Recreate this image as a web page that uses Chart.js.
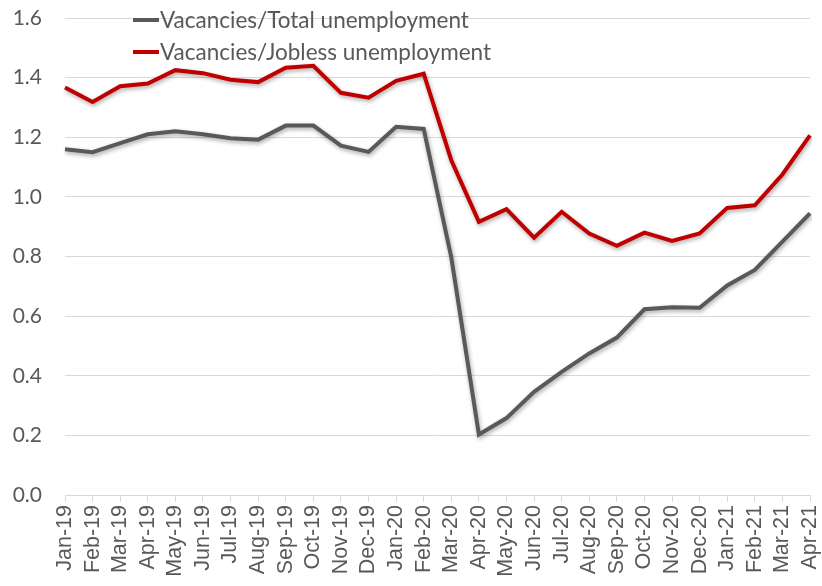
<!DOCTYPE html>
<html>
<head>
<meta charset="utf-8">
<script src="https://cdn.jsdelivr.net/npm/chart.js@4"></script>
<style>
  html, body { margin: 0; padding: 0; background: #fff; }
  #wrap { width: 822px; height: 586px; }
</style>
</head>
<body>
<div id="wrap"><canvas id="myChart" width="822" height="586"></canvas></div>
<script>
"use strict";

const months = [
  "Jan-19", "Feb-19", "Mar-19", "Apr-19", "May-19", "Jun-19", "Jul-19",
  "Aug-19", "Sep-19", "Oct-19", "Nov-19", "Dec-19", "Jan-20", "Feb-20",
  "Mar-20", "Apr-20", "May-20", "Jun-20", "Jul-20", "Aug-20", "Sep-20",
  "Oct-20", "Nov-20", "Dec-20", "Jan-21", "Feb-21", "Mar-21", "Apr-21"
];

const totalRatio = [
  1.16, 1.15, 1.18, 1.21, 1.22, 1.21, 1.197, 1.192, 1.239, 1.239, 1.172, 1.151,
  1.235, 1.228, 0.797, 0.203, 0.258, 0.346, 0.413, 0.475, 0.528, 0.623, 0.63,
  0.628, 0.703, 0.755, 0.85, 0.945
];

const joblessRatio = [
  1.367, 1.318, 1.371, 1.38, 1.425, 1.415, 1.393, 1.385, 1.433, 1.44, 1.349,
  1.333, 1.389, 1.413, 1.123, 0.916, 0.959, 0.863, 0.95, 0.877, 0.836, 0.88,
  0.852, 0.877, 0.963, 0.972, 1.075, 1.206
];

const yTicks = [0, 0.2, 0.4, 0.6, 0.8, 1.0, 1.2, 1.4, 1.6];

const FONT = "Lato, 'Open Sans', sans-serif";
const TEXT = "#595959";

// soft drop shadow under the lines, like the spreadsheet original
const lineShadow = {
  id: "lineShadow",
  beforeDatasetDraw(chart) {
    const ctx = chart.ctx;
    ctx.save();
    ctx.shadowColor = "rgba(0,0,0,0.35)";
    ctx.shadowBlur = 4;
    ctx.shadowOffsetX = 1;
    ctx.shadowOffsetY = 2;
  },
  afterDatasetDraw(chart) {
    chart.ctx.restore();
  }
};

// legend drawn inside the plot area, top left
const insideLegend = {
  id: "insideLegend",
  afterDraw(chart) {
    const ctx = chart.ctx;
    const x0 = 133;
    let y = 20;
    ctx.save();
    ctx.font = "22.5px " + FONT;
    ctx.textBaseline = "middle";
    for (const ds of chart.data.datasets) {
      ctx.strokeStyle = ds.borderColor;
      ctx.lineWidth = 4;
      ctx.lineCap = "butt";
      ctx.beginPath();
      ctx.moveTo(x0, y);
      ctx.lineTo(x0 + 26, y);
      ctx.stroke();
      ctx.fillStyle = TEXT;
      ctx.fillText(ds.label, x0 + 27, y + 1);
      y += 32;
    }
    ctx.restore();
  }
};

const ctx = document.getElementById("myChart").getContext("2d");

new Chart(ctx, {
  type: "line",
  data: {
    labels: months,
    datasets: [
      {
        label: "Vacancies/Total unemployment",
        data: totalRatio,
        borderColor: "#595959",
        backgroundColor: "#595959",
        borderWidth: 4,
        pointRadius: 0,
        tension: 0,
        fill: false
      },
      {
        label: "Vacancies/Jobless unemployment",
        data: joblessRatio,
        borderColor: "#C00000",
        backgroundColor: "#C00000",
        borderWidth: 4,
        pointRadius: 0,
        tension: 0,
        fill: false
      }
    ]
  },
  options: {
    responsive: false,
    animation: false,
    layout: { padding: { top: 18, right: 12, left: 0, bottom: 0 } },
    plugins: {
      legend: { display: false },
      tooltip: { enabled: false }
    },
    scales: {
      x: {
        offset: false,
        grid: {
          drawOnChartArea: false,
          drawTicks: true,
          tickLength: 7,
          color: "#d9d9d9"
        },
        border: { color: "#d9d9d9", width: 1 },
        ticks: {
          autoSkip: false,
          minRotation: 90,
          maxRotation: 90,
          padding: 3,
          color: TEXT,
          font: { family: "'Liberation Sans', Arial, sans-serif", size: 21.5 }
        },
        afterFit(scale) {
          scale.height = 91;
          scale.paddingLeft = 0;
          scale.paddingRight = 0;
        }
      },
      y: {
        min: 0,
        max: 1.6,
        afterBuildTicks(scale) {
          scale.ticks = yTicks.map((v) => ({ value: v }));
        },
        grid: { color: "#d9d9d9", drawTicks: false },
        border: { display: false },
        ticks: {
          padding: 23,
          color: TEXT,
          font: { family: FONT, size: 21 },
          callback: (v) => Number(v).toFixed(1)
        },
        afterFit(scale) {
          scale.width = 65;
          scale.paddingTop = 0;
          scale.paddingBottom = 0;
        }
      }
    }
  },
  plugins: [lineShadow, insideLegend]
});
</script>
</body>
</html>
